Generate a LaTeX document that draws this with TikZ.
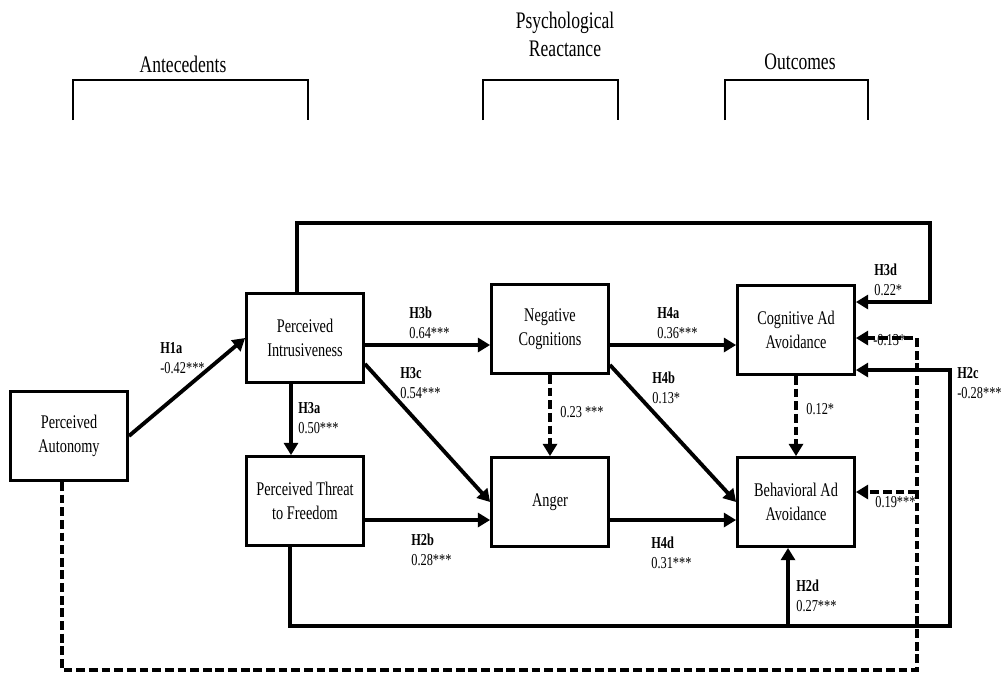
\documentclass[tikz,border=0pt]{standalone}
\usepackage{fontspec}
\setmainfont{Liberation Serif}[FakeStretch=0.74]
\usepackage{tikz}
\usetikzlibrary{arrows.meta}

\begin{document}
\begin{tikzpicture} [
    x=0.02cm, y=-0.02cm,
    b/.style = {rectangle, draw, line width=1.6pt, text centered, align=center,
    minimum width=2.34cm, minimum height=1.78cm, inner sep=2pt, font=\fontsize{11}{13.5}\selectfont},
    arrow/.style = {draw, line width=2.2pt, -{Triangle[length=7pt,width=8pt]}},
    dasharrow/.style = {arrow, line width=2pt, dash pattern=on 5pt off 2.2pt},
    lbl/.style = {anchor=base west, inner sep=0pt, font=\fontsize{9.5}{11.3}\selectfont, align=left},
    head/.style = {font=\fontsize{13.5}{16}\selectfont, align=center},
    bracket/.style = {draw, line width=0.7pt}
    ]
    \useasboundingbox (0,0) rectangle (1003,674);

    % column headings
    \node[head] (hant) at (183,64) {Antecedents};
    \node[head] (hpsy) at (565,34) {Psychological\\Reactance};
    \node[head] (hout) at (800,62) {Outcomes};
    \draw[bracket] (73,120) -- (73,80) -- (308,80) -- (308,120);
    \draw[bracket] (483,120) -- (483,80) -- (618,80) -- (618,120);
    \draw[bracket] (725,120) -- (725,80) -- (868,80) -- (868,120);

    % constructs
    \node[b] (auto) at (69,436) {Perceived\\Autonomy};
    \node[b] (intr) at (305,338) {Perceived\\Intrusiveness};
    \node[b] (threat) at (305,501) {Perceived Threat\\to Freedom};
    \node[b] (neg) at (550,329) {Negative\\Cognitions};
    \node[b] (anger) at (550,502) {Anger};
    \node[b] (cog) at (796,330) {Cognitive Ad\\Avoidance};
    \node[b] (beh) at (796,502) {Behavioral Ad\\Avoidance};

    % routing points
    \coordinate (top) at (930,223);
    \coordinate (low) at (950,626);
    \coordinate (dash) at (917,670);

    % paths
    \draw[arrow] (auto.east) -- (intr.west);
    \draw[arrow] (intr.east |- 0,345) -- (neg.west |- 0,345);
    \draw[arrow] (intr.south east) ++(0,-20) -- (anger.west);
    \draw[arrow] (intr.south -| 291,0) -- (threat.north -| 291,0);
    \draw[arrow] (threat.east |- 0,520) -- (anger.west |- 0,520);
    \draw[dasharrow] (neg.south) -- (anger.north);
    \draw[arrow] (neg.east |- 0,345) -- (cog.west |- 0,345);
    \draw[arrow] (neg.south east) ++(0,-10) -- (beh.west);
    \draw[arrow] (anger.east |- 0,520) -- (beh.west |- 0,520);
    \draw[dasharrow] (cog.south) -- (beh.north);
    \draw[arrow] (intr.north -| 297,0) |- (top) |- (cog.east |- 0,302);
    \draw[arrow] (threat.south -| 290,0) |- (low) |- (cog.east |- 0,370);
    \draw[arrow] (788,626) -- (beh.south -| 788,0);
    \draw[dasharrow] (auto.south -| 62,0) |- (dash) |- (cog.east |- 0,338);
    \draw[dasharrow] (917,492) -- (beh.east |- 0,492);

    % path labels
    \node[lbl] (l1a) at (160,373) {\textbf{H1a}\\-0.42***};
    \node[lbl] (l3b) at (409,338) {\textbf{H3b}\\0.64***};
    \node[lbl] (l3c) at (400,398) {\textbf{H3c}\\ 0.54***};
    \node[lbl] (l3a) at (298,433) {\textbf{H3a}\\0.50***};
    \node[lbl] (l2b) at (411,565) {\textbf{H2b}\\0.28***};
    \node[lbl] (lna) at (560,417) {0.23 ***};
    \node[lbl] (l4a) at (657,338) {\textbf{H4a}\\0.36***};
    \node[lbl] (l4b) at (652,403) {\textbf{H4b}\\0.13*};
    \node[lbl] (l4d) at (651,568) {\textbf{H4d}\\0.31***};
    \node[lbl] (l3d) at (874,295) {\textbf{H3d}\\ 0.22*};
    \node[lbl] (lcn) at (873,345) {-0.13*};
    \node[lbl] (lcb) at (806,414) {0.12*};
    \node[lbl] (lbn) at (875,507) {0.19***};
    \node[lbl] (l2c) at (957,398) {\textbf{H2c}\\-0.28***};
    \node[lbl] (l2d) at (796,611) {\textbf{H2d}\\0.27***};
\end{tikzpicture}
\end{document}
